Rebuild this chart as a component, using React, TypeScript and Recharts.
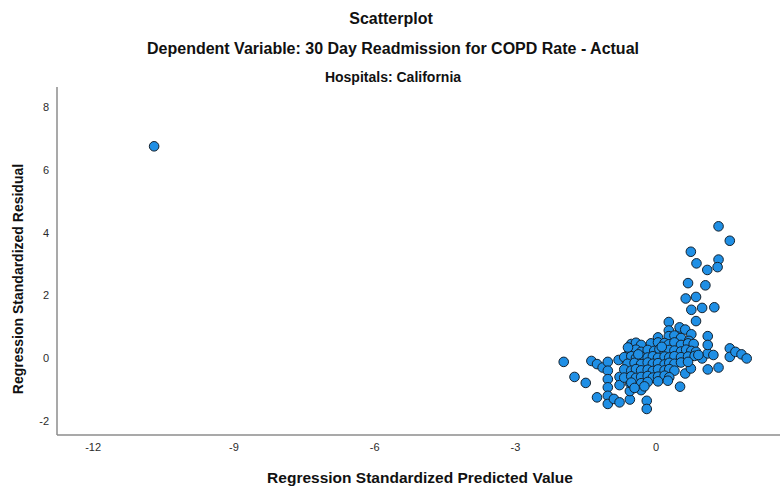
import { ScatterChart, Scatter, XAxis, YAxis } from "recharts"

// regression standardized predicted value (x) / standardized residual (y)
const predicted = [
  -10.7,
  1.33, 1.57, 0.74, 1.33, 0.86, 1.31, 1.09, 0.68, 1.05, 0.63, 0.85, 0.75, 0.98, 1.24, 0.85, 0.27, 0.51, 1.1,
  -1.97, -1.74, -1.5, -1.38, -1.26, -1.14, -1.03, -1.03, -1.03, -1.03, -1.03, -1.03, -1.26, -0.9, -0.78,
  -0.8, -0.78, -0.78, -0.56, -0.56, -0.56, -0.32, -0.2, -0.2, 0.51, 0.62, 0.74, 1.1, 1.33, 0.98, 1.1,
  1.1, 1.22, 1.57, 1.57, 1.69, 1.82, 1.93,
  0.27, 0.5, 0.62, 0.75,
  0.04, 0.27, 0.39, 0.53, 0.7,
  -0.53, -0.43, -0.32, -0.11, 0.04, 0.18, 0.27, 0.39, 0.53, 0.68, 0.8,
  -0.57, -0.43, -0.32, -0.18, -0.04, 0.07, 0.18, 0.28, 0.39, 0.53, 0.64, 0.75, 0.85,
  -0.68, -0.53, -0.43, -0.32, -0.18, -0.07, 0.04, 0.18, 0.28, 0.39, 0.53, 0.68, 0.82, 0.9,
  -0.61, -0.46, -0.32, -0.18, -0.07, 0.04, 0.18, 0.28, 0.39, 0.53, 0.68,
  -0.68, -0.53, -0.43, -0.32, -0.18, -0.07, 0.04, 0.18, 0.28, 0.39,
  -0.68, -0.53, -0.43, -0.32, -0.18, -0.07, 0.04, 0.18, 0.28,
  -0.53, -0.32, -0.18, 0.04, 0.25,
  -0.25, -0.46, 0.12, -0.6, -0.38,
]

const residual = [
  6.75,
  4.2, 3.74, 3.39, 3.14, 3.02, 2.9, 2.81, 2.39, 2.32, 1.9, 1.95, 1.54, 1.6, 1.62, 1.18, 1.15, 0.93, 0.7,
  -0.12, -0.6, -0.79, -0.09, -0.19, -0.3, -0.12, -0.4, -0.67, -0.93, -1.2, -1.46, -1.25, -1.3, -1.41,
  -0.06, -0.6, -0.86, -1.32, -1.05, -0.79, -1.02, -1.36, -1.62, -0.91, -0.49, -0.33, -0.36, -0.3, -0.01, 0.15,
  0.42, 0.1, 0.31, 0.04, 0.2, 0.12, -0.01,
  0.88, 0.98, 0.91, 0.76,
  0.66, 0.7, 0.72, 0.64, 0.55,
  0.45, 0.49, 0.42, 0.47, 0.5, 0.48, 0.44, 0.5, 0.42, 0.47, 0.45,
  0.24, 0.27, 0.2, 0.26, 0.23, 0.28, 0.22, 0.26, 0.24, 0.21, 0.27, 0.23, 0.2,
  0.03, 0.06, 0.0, 0.05, 0.02, 0.06, 0.01, 0.05, 0.02, 0.06, 0.03, 0.05, 0.07, 0.1,
  -0.18, -0.15, -0.19, -0.14, -0.18, -0.16, -0.2, -0.15, -0.18, -0.14, -0.12,
  -0.36, -0.4, -0.35, -0.39, -0.37, -0.41, -0.36, -0.39, -0.35, -0.4,
  -0.62, -0.58, -0.63, -0.6, -0.57, -0.62, -0.59, -0.56, -0.61,
  -0.78, -0.8, -0.76, -0.74, -0.72,
  -0.9, -0.95, 0.36, 0.34, 0.12,
]

const xTicks = [-12, -9, -6, -3, 0]
const yTicks = [-2, 0, 2, 4, 6, 8]

const data = predicted.map((x, i) => ({ x, y: residual[i] }))

const font = "Arial, 'Liberation Sans', sans-serif"

function Dot(props: any) {
  const { cx, cy } = props
  return <circle cx={cx} cy={cy} r={4.8} fill="#1f8fe5" stroke="#15222e" strokeWidth={1} />
}

export default function App() {
  return (
    <div style={{ position: "absolute", left: 0, top: 0, width: 782, height: 487, background: "#fff", fontFamily: font }}>
      <div style={{ position: "absolute", left: 0, width: 782, top: 10, textAlign: "center", fontSize: 16, fontWeight: "bold", color: "#111" }}>
        Scatterplot
      </div>
      <div style={{ position: "absolute", left: 0, width: 786, top: 40, textAlign: "center", fontSize: 16, fontWeight: "bold", color: "#111" }}>
        Dependent Variable: 30 Day Readmission for COPD Rate - Actual
      </div>
      <div style={{ position: "absolute", left: 0, width: 786, top: 69, textAlign: "center", fontSize: 14, fontWeight: "bold", color: "#111", fontFamily: "'Liberation Sans Narrow', 'Arial Narrow', sans-serif" }}>
        Hospitals: California
      </div>

      <ScatterChart width={782} height={487} margin={{ top: 87, right: 2, bottom: 22, left: 0 }}>
        <XAxis
          type="number"
          dataKey="x"
          domain={[-12.77, 2.64]}
          ticks={xTicks}
          tickLine={false}
          axisLine={{ stroke: "#8c8c8c", strokeWidth: 1.5 }}
          tick={{ fontSize: 11, fill: "#2b2b2b", stroke: "none", fontFamily: font }}
          allowDataOverflow
        />
        <YAxis
          type="number"
          dataKey="y"
          width={57}
          domain={[-2.45, 8.64]}
          ticks={yTicks}
          tickLine={false}
          axisLine={{ stroke: "#8c8c8c", strokeWidth: 1.5 }}
          tick={{ fontSize: 11, fill: "#2b2b2b", stroke: "none", fontFamily: font }}
          allowDataOverflow
        />
        <Scatter data={data} shape={<Dot />} isAnimationActive={false} />
      </ScatterChart>

      <div style={{ position: "absolute", left: 420, top: 478, transform: "translate(-50%, -50%)", whiteSpace: "nowrap", fontSize: 15.5, fontWeight: "bold", color: "#111" }}>
        Regression Standardized Predicted Value
      </div>
      <div style={{ position: "absolute", left: 18, top: 279, transform: "translate(-50%, -50%) rotate(-90deg)", whiteSpace: "nowrap", fontSize: 14, fontWeight: "bold", color: "#111" }}>
        Regression Standardized Residual
      </div>
    </div>
  )
}
